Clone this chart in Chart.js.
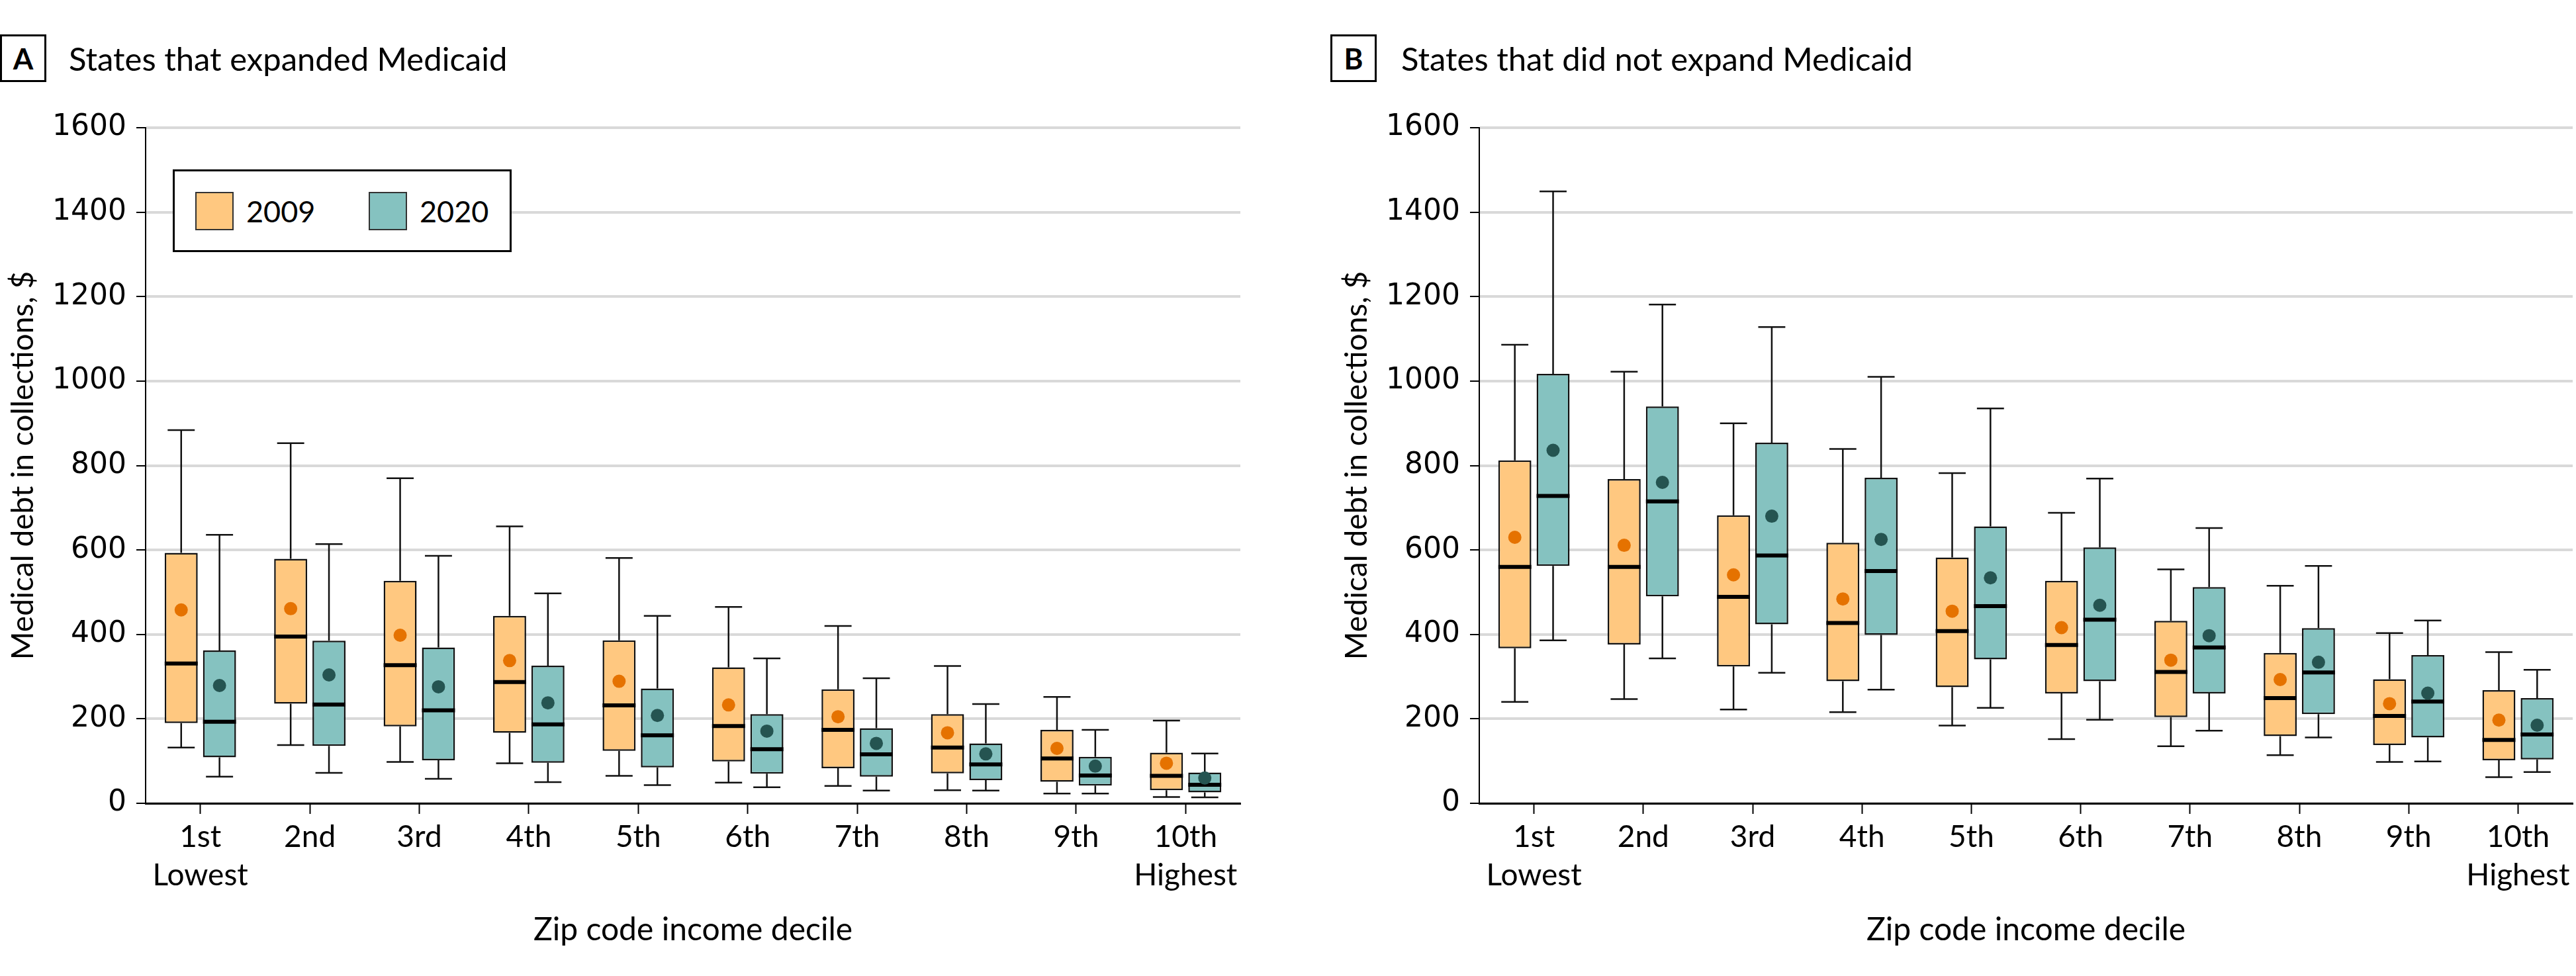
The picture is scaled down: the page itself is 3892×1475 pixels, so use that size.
<!DOCTYPE html>
<html>
<head>
<meta charset="utf-8">
<script src="https://cdn.jsdelivr.net/npm/chart.js@4.4.1/dist/chart.umd.min.js"></script>
<style>
html,body{margin:0;padding:0;background:#fff;}
body{width:3892px;height:1475px;position:relative;overflow:hidden;font-family:Lato,"Noto Sans",sans-serif;color:#000;}
.panel{position:absolute;top:0;height:1475px;}
.lab{position:absolute;top:52px;width:70px;height:72px;box-sizing:border-box;border:3px solid #000;font:bold 44px Lato,sans-serif;display:flex;align-items:center;justify-content:center;}
.ttl{position:absolute;top:88px;transform:translateY(-50%);font:49px Lato,sans-serif;white-space:nowrap;}
.legend{position:absolute;left:261px;top:256px;width:512px;height:125px;box-sizing:border-box;border:3px solid #000;background:#fff;}
.sw{position:absolute;top:31px;width:58px;height:58px;box-sizing:border-box;border:2.5px solid #333;}
.lt{position:absolute;top:60px;transform:translateY(-50%);font:45px Lato,sans-serif;}
</style>
</head>
<body>
<div class="lab" style="left:0px;">A</div>
<div class="ttl" style="left:104px;">States that expanded Medicaid</div>
<div class="lab" style="left:2010px;">B</div>
<div class="ttl" style="left:2117px;">States that did not expand Medicaid</div>

<div class="panel" style="left:0px;width:1900px;"><canvas id="cA"></canvas></div>
<div class="panel" style="left:2015px;width:1877px;"><canvas id="cB"></canvas></div>

<div class="legend">
  <div class="sw" style="left:31px;background:#FFC880;"></div>
  <div class="lt" style="left:108px;">2009</div>
  <div class="sw" style="left:293px;background:#85C2C0;"></div>
  <div class="lt" style="left:370px;">2020</div>
</div>

<script>
// ---- Data ----
const deciles = ["1st","2nd","3rd","4th","5th","6th","7th","8th","9th","10th"];
const decileNotes = ["Lowest","","","","","","","","","Highest"];
const seriesNames = ["2009","2020"];

// Panel A: states that expanded Medicaid, 2009
const aLow09  = [132,138,98,95,65,49,41,31,23,15];
const aQ1_09  = [190,236,182,167,124,99,83,71,51,31];
const aMed09  = [331,395,327,287,232,183,174,132,106,65];
const aQ3_09  = [593,579,527,444,386,322,270,211,174,120];
const aHigh09 = [884,853,770,656,581,465,420,325,252,196];
const aMean09 = [458,461,398,338,289,233,205,167,130,95];
// Panel A, 2020
const aLow20  = [63,72,58,50,43,38,30,30,23,14];
const aQ1_20  = [109,136,102,96,85,70,63,55,42,26];
const aMed20  = [193,234,220,187,161,128,116,92,66,44];
const aQ3_20  = [362,385,369,326,272,211,178,142,110,73];
const aHigh20 = [636,614,586,497,444,343,296,235,174,118];
const aMean20 = [279,304,276,238,208,171,142,117,88,60];

// Panel B: states that did not expand Medicaid, 2009
const bLow09  = [240,247,222,216,184,152,135,114,98,62];
const bQ1_09  = [367,376,324,289,275,260,204,159,138,102];
const bMed09  = [560,560,489,427,408,375,311,249,207,150];
const bQ3_09  = [812,768,682,617,582,527,432,356,294,268];
const bHigh09 = [1086,1022,900,839,782,688,554,515,403,358];
const bMean09 = [630,611,541,484,455,416,339,293,236,197];
// Panel B, 2020
const bLow20  = [386,343,309,269,226,198,172,156,99,74];
const bQ1_20  = [562,490,424,399,341,289,260,211,156,104];
const bMed20  = [728,715,587,550,467,435,369,310,241,163];
const bQ3_20  = [1017,940,854,771,656,606,512,415,351,249];
const bHigh20 = [1449,1181,1128,1010,935,769,652,562,433,316];
const bMean20 = [836,760,680,625,534,469,397,334,261,185];

const yMin = 0, yMax = 1600, yStep = 200;

// ---- Styles ----
const FILL09 = '#FFC880', FILL20 = '#85C2C0';
const DOT09 = '#E57200', DOT20 = '#255451';
const INK = '#111';

const xLabels = deciles.map((d, i) => decileNotes[i] ? [d, decileNotes[i]] : d);

const boxExtras = {
  id: 'boxExtras',
  afterDatasetsDraw(chart) {
    const ctx = chart.ctx;
    const ys = chart.scales.y;
    chart.data.datasets.forEach((ds, di) => {
      const meta = chart.getDatasetMeta(di);
      const st = ds.stats;
      if (!st) return;
      meta.data.forEach((bar, i) => {
        const x = bar.x, w = bar.width;
        const q1 = ds.data[i][0], q3 = ds.data[i][1];
        const pq1 = ys.getPixelForValue(q1), pq3 = ys.getPixelForValue(q3);
        const pl = ys.getPixelForValue(st.low[i]), ph = ys.getPixelForValue(st.high[i]);
        const pm = ys.getPixelForValue(st.med[i]), pmean = ys.getPixelForValue(st.mean[i]);
        const cw = w * 0.82;
        ctx.save();
        ctx.strokeStyle = INK;
        ctx.lineWidth = 2.5;
        ctx.beginPath();
        ctx.moveTo(x, pq3); ctx.lineTo(x, ph);
        ctx.moveTo(x - cw / 2, ph); ctx.lineTo(x + cw / 2, ph);
        ctx.moveTo(x, pq1); ctx.lineTo(x, pl);
        ctx.moveTo(x - cw / 2, pl); ctx.lineTo(x + cw / 2, pl);
        ctx.stroke();
        ctx.lineWidth = 6;
        ctx.strokeStyle = '#000';
        ctx.beginPath();
        ctx.moveTo(x - w / 2, pm); ctx.lineTo(x + w / 2, pm);
        ctx.stroke();
        ctx.fillStyle = ds.meanColor;
        ctx.beginPath();
        ctx.arc(x, pmean, 10, 0, Math.PI * 2);
        ctx.fill();
        ctx.restore();
      });
    });
  }
};

function makeChart(id, padRight, s09, s20) {
  const box = (q1, q3) => q1.map((v, i) => [v, q3[i]]);
  return new Chart(document.getElementById(id), {
    type: 'bar',
    data: {
      labels: xLabels,
      datasets: [
        { label: seriesNames[0], data: box(s09.q1, s09.q3), backgroundColor: FILL09,
          borderColor: INK, borderWidth: 2.5, borderSkipped: false,
          stats: s09, meanColor: DOT09 },
        { label: seriesNames[1], data: box(s20.q1, s20.q3), backgroundColor: FILL20,
          borderColor: INK, borderWidth: 2.5, borderSkipped: false,
          stats: s20, meanColor: DOT20 }
      ]
    },
    options: {
      responsive: true, maintainAspectRatio: false, animation: false,
      devicePixelRatio: 1,
      categoryPercentage: 0.70, barPercentage: 0.862,
      layout: { padding: { top: 193, right: padRight, bottom: 0, left: 0 } },
      plugins: { legend: { display: false }, tooltip: { enabled: false } },
      scales: {
        x: {
          ticks: { font: { family: 'Lato', size: 46, lineHeight: 1.26 }, color: '#000',
                   padding: 6, maxRotation: 0, autoSkip: false },
          grid: { display: true, drawOnChartArea: false, offset: false,
                  tickColor: '#000', tickWidth: 2, tickLength: 16 },
          border: { color: '#000', width: 3 },
          title: { display: true, text: 'Zip code income decile', color: '#000',
                   font: { family: 'Lato', size: 48 }, padding: { top: 0, bottom: 41 } },
          afterFit(s) { s.height = 261; }
        },
        y: {
          min: yMin, max: yMax,
          ticks: { stepSize: yStep, font: { family: 'DejaVu Sans', size: 44 }, color: '#000', padding: 15,
                   callback: (v) => String(v) },
          grid: { color: '#d9d9d9', lineWidth: 4, tickColor: '#000', tickWidth: 2, tickLength: 14 },
          border: { color: '#000', width: 2 },
          title: { display: true, text: 'Medical debt in collections, $', color: '#000',
                   font: { family: 'Lato', size: 46 }, padding: { top: 8, bottom: 0 } },
          afterFit(s) { s.width = 220; }
        }
      }
    },
    plugins: [boxExtras]
  });
}

makeChart('cA', 26,
  { low: aLow09, q1: aQ1_09, med: aMed09, q3: aQ3_09, high: aHigh09, mean: aMean09 },
  { low: aLow20, q1: aQ1_20, med: aMed20, q3: aQ3_20, high: aHigh20, mean: aMean20 });
makeChart('cB', 5,
  { low: bLow09, q1: bQ1_09, med: bMed09, q3: bQ3_09, high: bHigh09, mean: bMean09 },
  { low: bLow20, q1: bQ1_20, med: bMed20, q3: bQ3_20, high: bHigh20, mean: bMean20 });
</script>
</body>
</html>
